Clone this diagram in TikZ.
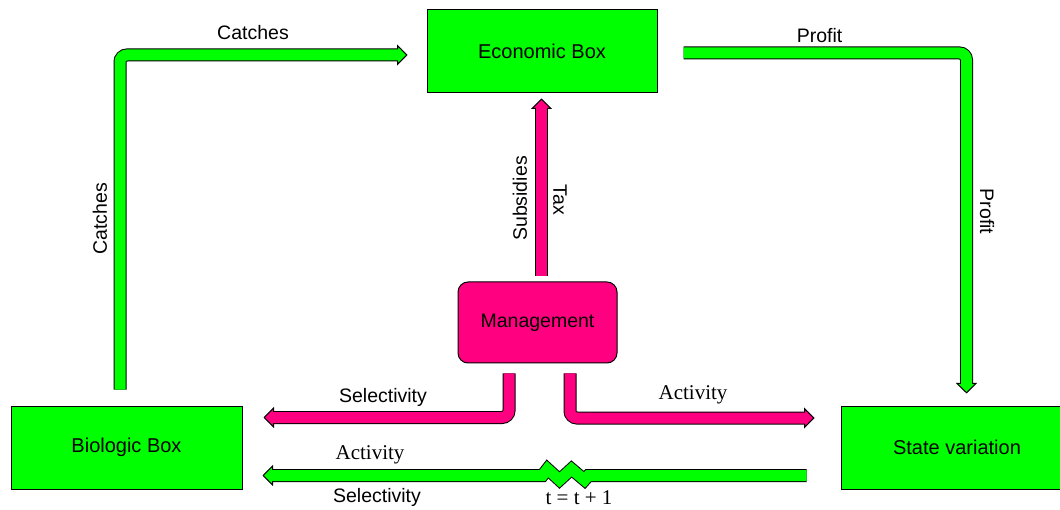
\documentclass[tikz,border=0pt]{standalone}
\usepackage{fontspec}
\setmainfont{Liberation Serif}
\setsansfont{Liberation Sans}
\usetikzlibrary{arrows.meta,calc}
\definecolor{boxgreen}{RGB}{0,255,0}
\definecolor{mgpink}{RGB}{255,0,128}
\newcommand\fatlink[4]{%
  \draw[line width=13pt, black, line join=miter, shorten >=#2,
        -{Triangle[length=10.5pt,width=21pt,line width=1pt,fill=#1]}] #4;
  \draw[line width=11pt, #1, line join=miter, shorten >=#3] #4;
}
\begin{document}
\begin{tikzpicture}[x=1pt,y=1pt,
  box/.style={draw=black, line width=1pt, fill=boxgreen, text=black,
    font=\sffamily\fontsize{20}{24}\selectfont},
  mgmtbox/.style={draw=black, line width=1pt, fill=mgpink, rounded corners=10pt,
    minimum width=159pt, minimum height=81pt, text=black,
    font=\sffamily\fontsize{19.5}{23}\selectfont},
  lab/.style={font=\sffamily\fontsize{19.5}{23}\selectfont, inner sep=0pt},
  serlab/.style={font=\rmfamily\fontsize{21}{25}\selectfont, inner sep=0pt}]
\useasboundingbox (0,0) rectangle (1060,509);
% boxes
\node[box, minimum width=230pt, minimum height=83pt] (eco) at (542,457.5) {Economic Box};
\node[box, minimum width=231pt, minimum height=83pt] (bio) at (126.5,61.5) {Biologic Box};
\node[box, minimum width=232pt, minimum height=83pt] (state) at (957,61.5) {State variation};
\node[mgmtbox] (mgmt) at (537.5,186.5) {Management};
% connectors
\fatlink{boxgreen}{19pt}{26pt}{([shift={(-6.5,16)}]bio.north) [rounded corners=7pt] |- ([yshift=-3.5]eco.west)}
\fatlink{boxgreen}{12pt}{19pt}{([shift={(26,-1.5)}]eco.east) [rounded corners=7pt] -| ([xshift=9.5]state.north)}
\fatlink{mgpink}{5pt}{12pt}{([shift={(4,5)}]mgmt.north) -- ([xshift=-0.5]eco.south)}
\fatlink{mgpink}{21pt}{28pt}{([shift={(-28.5,-10)}]mgmt.south) [rounded corners=7pt] |- ([yshift=30]bio.east)}
\fatlink{mgpink}{26pt}{33pt}{([shift={(32.5,-10)}]mgmt.south) [rounded corners=7pt] |- ([yshift=29.5]state.west)}
\fatlink{boxgreen}{20pt}{27pt}{([shift={(-34,-28)}]state.west) -- ++(-218,0) -- ++(-4,-4.5) -- ++(-13,11) -- ++(-12,-11) -- ++(-12,11) -- ++(-5,-6.5) -- ([yshift=-28]bio.east)}
% labels
\node[lab] (lCatchTop) at (253,476) {Catches};
\node[lab, rotate=90] (lCatchV) at (100,290) {Catches};
\node[lab] (lProfTop) at (819.5,473) {Profit};
\node[lab, rotate=-90] (lProfV) at (987,297.5) {Profit};
\node[lab, rotate=90] (lSub) at (520,310.5) {Subsidies};
\node[lab, rotate=-90] (lTax) at (560,309) {Tax};
\node[lab] (lSel1) at (383,112) {Selectivity};
\node[serlab] (lAct1) at (693,114) {Activity};
\node[serlab] (lAct2) at (370,54) {Activity};
\node[lab] (lSel2) at (377,11.5) {Selectivity};
\node[serlab] (lT) at (579,11.5) {t = t + 1};
\end{tikzpicture}
\end{document}
